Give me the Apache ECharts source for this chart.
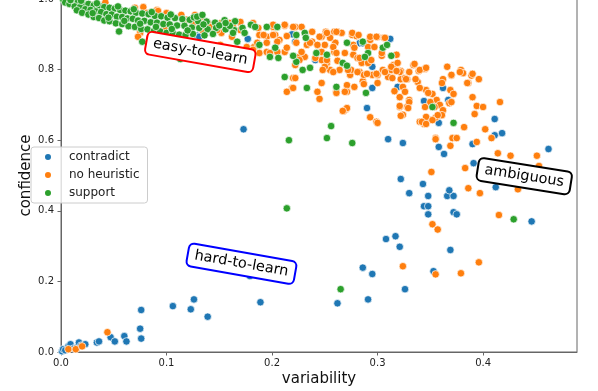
<!DOCTYPE html>
<html>
<head>
<meta charset="utf-8">
<script src="https://cdn.jsdelivr.net/npm/echarts@6/dist/echarts.min.js"></script>
<style>
html,body{margin:0;padding:0;background:#fff;}
#chart{width:598px;height:391px;}
</style>
</head>
<body>
<div id="chart"></div>
<script>
// [variability, confidence] per training example
var contradict=[
  [0.001,0.002],[0.002,0.008],[0.004,0.005],[0.007,0.016],[0.009,0.022],[0.012,0.010],[0.015,0.013],[0.017,0.027],[0.019,0.018],[0.023,0.022],
  [0.034,0.027],[0.036,0.030],[0.047,0.042],[0.051,0.030],[0.060,0.045],[0.062,0.030],[0.075,0.066],[0.076,0.038],[0.076,0.119],[0.106,0.130],
  [0.123,0.121],[0.126,0.149],[0.139,0.100],[0.179,0.215],[0.189,0.141],
  [0.262,0.138],[0.291,0.149],[0.286,0.239],[0.295,0.221],[0.308,0.320],[0.317,0.328],[0.321,0.298],[0.326,0.178],[0.353,0.229],[0.369,0.289],
  [0.344,0.413],[0.348,0.413],[0.348,0.390],[0.372,0.396],[0.375,0.390],[0.366,0.442],[0.372,0.442],[0.348,0.442],[0.330,0.450],[0.446,0.370],
  [0.322,0.490],[0.343,0.476],[0.368,0.458],[0.412,0.467],[0.391,0.535],
  [0.310,0.603],[0.324,0.592],[0.358,0.581],[0.363,0.561],[0.390,0.589],[0.411,0.660],[0.418,0.620],[0.411,0.614],[0.462,0.575],
  [0.173,0.631],
  [0.295,0.808],[0.295,0.748],[0.319,0.751],[0.290,0.691],[0.344,0.711],[0.362,0.748],[0.367,0.714],[0.358,0.649],
  [0.129,0.896],[0.131,0.893],[0.177,0.887],[0.219,0.900],[0.222,0.879],[0.241,0.827],[0.283,0.875],[0.286,0.875],[0.312,0.887]
];
var noHeuristic=[
  [0.007,0.008],[0.014,0.008],[0.020,0.016],[0.044,0.056],
  [0.324,0.243],[0.352,0.362],[0.357,0.347],[0.355,0.220],[0.379,0.223],[0.396,0.254],[0.415,0.388],[0.386,0.464],[0.397,0.450],[0.433,0.461],
  [0.351,0.510],[0.383,0.521],[0.414,0.563],[0.426,0.556],[0.451,0.556],[0.453,0.527],
  [0.355,0.606],[0.371,0.606],[0.375,0.606],[0.369,0.584],[0.394,0.595],[0.402,0.631],[0.408,0.606],[0.382,0.637],
  [0.390,0.722],[0.394,0.697],[0.400,0.694],[0.392,0.674],[0.416,0.708],[0.368,0.705],
  [0.366,0.808],[0.370,0.783],[0.379,0.799],[0.381,0.790],[0.389,0.783],[0.396,0.773],[0.386,0.762],[0.362,0.773],[0.361,0.762],[0.369,0.742],
  [0.372,0.731],[0.370,0.708],[0.390,0.788],[0.385,0.762],[0.370,0.785],[0.378,0.793],
  [0.352,0.731],[0.356,0.714],[0.359,0.700],[0.362,0.685],[0.361,0.671],[0.355,0.664],[0.349,0.657],[0.344,0.646],[0.340,0.652],[0.345,0.694],
  [0.330,0.714],[0.328,0.694],[0.321,0.694],[0.324,0.672],[0.321,0.722],[0.322,0.773],[0.338,0.765],[0.346,0.742],[0.299,0.652],[0.293,0.665],
  [0.270,0.688],[0.268,0.683],[0.245,0.717],[0.247,0.762],[0.261,0.739],[0.271,0.756],[0.286,0.767],[0.300,0.762],[0.295,0.785],[0.300,0.785],
  [0.310,0.779],[0.313,0.799],[0.315,0.813],[0.322,0.796],[0.328,0.773],[0.334,0.813],[0.339,0.796],[0.345,0.802],[0.220,0.776],[0.219,0.748],
  [0.274,0.785],
  [0.251,0.907],[0.259,0.907],[0.262,0.907],[0.266,0.904],[0.276,0.898],[0.280,0.895],[0.293,0.884],[0.300,0.892],[0.306,0.890],[0.250,0.870],
  [0.260,0.876],[0.255,0.890],[0.277,0.870],[0.291,0.864],[0.259,0.850],[0.269,0.847],[0.277,0.842],[0.281,0.833],[0.304,0.839],[0.318,0.842],
  [0.252,0.819],[0.262,0.825],[0.285,0.819],[0.291,0.819],[0.313,0.808],[0.319,0.819],[0.255,0.799],[0.264,0.799],[0.275,0.799],[0.283,0.793],
  [0.305,0.799],[0.321,0.793],[0.330,0.793],[0.287,0.785],[0.314,0.776],[0.326,0.776],[0.336,0.773],[0.340,0.748],[0.348,0.734],[0.324,0.751],
  [0.326,0.737],[0.316,0.739],[0.261,0.734],[0.271,0.737],[0.287,0.759],[0.335,0.816],[0.340,0.799],[0.346,0.805],
  [0.350,0.708],[0.354,0.694],[0.357,0.671],[0.346,0.666],[0.342,0.652],[0.346,0.646],[0.352,0.657],[0.330,0.708],[0.321,0.697],[0.329,0.691],
  [0.322,0.669],[0.271,0.691],[0.267,0.683],[0.300,0.649],[0.355,0.603],
  [0.127,0.955],[0.133,0.950],[0.134,0.912],[0.140,0.929],[0.146,0.912],[0.152,0.932],[0.160,0.932],[0.170,0.932],[0.152,0.904],[0.170,0.912],
  [0.187,0.918],[0.188,0.898],[0.195,0.893],[0.203,0.898],[0.212,0.924],[0.201,0.921],[0.214,0.895],[0.207,0.884],[0.212,0.850],[0.233,0.870],
  [0.238,0.879],[0.247,0.893],[0.226,0.836],[0.231,0.836],[0.247,0.827],[0.250,0.808],[0.222,0.776],[0.214,0.737],[0.220,0.748],[0.243,0.737],
  [0.188,0.847],[0.195,0.850],[0.179,0.856],[0.183,0.864],[0.162,0.893],
  [0.028,0.983],[0.042,0.990],[0.070,0.975],[0.078,0.977],[0.091,0.969],[0.092,0.966],[0.100,0.960],[0.114,0.955],[0.117,0.940],[0.119,0.941],
  [0.125,0.932],[0.132,0.921],[0.141,0.921],[0.148,0.912],[0.163,0.927],[0.170,0.935],[0.182,0.932],[0.201,0.927],[0.212,0.927],[0.222,0.921],
  [0.201,0.898],[0.192,0.898],[0.195,0.876],[0.205,0.879],[0.214,0.862],[0.081,0.960],[0.075,0.904],[0.073,0.893],[0.120,0.850],[0.084,0.889],
  [0.222,0.813],[0.098,0.918],[0.113,0.898],[0.151,0.870],[0.176,0.864],[0.182,0.856],[0.186,0.876],[0.205,0.850],[0.198,0.847],
  [0.220,0.921],[0.228,0.921],[0.238,0.907],[0.245,0.893],[0.252,0.904],[0.261,0.907],[0.276,0.904],[0.282,0.898],[0.293,0.893],[0.299,0.893],
  [0.307,0.890],[0.223,0.876],[0.236,0.876],[0.243,0.870],[0.258,0.864],[0.278,0.862],[0.297,0.864],[0.228,0.850],[0.247,0.850],[0.261,0.847],
  [0.304,0.847],[0.226,0.827],[0.241,0.833],[0.252,0.827],[0.283,0.833],[0.294,0.827],[0.248,0.799],[0.258,0.793],[0.272,0.799],[0.281,0.793],
  [0.290,0.788],[0.299,0.788],[0.307,0.793],[0.318,0.796],[0.327,0.773],[0.269,0.737],[0.278,0.751]
];
var support=[
  [0.002,0.999],[0.006,0.996],[0.011,0.994],[0.016,0.991],[0.021,0.988],[0.026,0.986],[0.031,0.982],[0.036,0.981],[0.041,0.977],[0.046,0.975],
  [0.051,0.973],[0.056,0.969],[0.061,0.967],[0.066,0.965],[0.071,0.961],[0.077,0.959],[0.083,0.957],[0.089,0.952],[0.095,0.951],[0.101,0.947],
  [0.108,0.946],[0.115,0.943],[0.122,0.941],[0.130,0.937],[0.138,0.936],[0.146,0.933],[0.155,0.940],[0.165,0.937],
  [0.004,0.990],[0.008,0.986],[0.013,0.979],[0.018,0.977],[0.023,0.971],[0.028,0.969],[0.033,0.965],[0.038,0.963],[0.043,0.957],[0.048,0.956],
  [0.053,0.950],[0.058,0.949],[0.063,0.945],[0.068,0.944],[0.073,0.939],[0.079,0.938],[0.085,0.934],[0.091,0.933],[0.097,0.929],[0.103,0.928],
  [0.110,0.925],[0.117,0.924],[0.124,0.919],[0.131,0.918],[0.139,0.914],[0.147,0.918],[0.156,0.914],[0.164,0.912],[0.172,0.918],
  [0.015,0.968],[0.020,0.961],[0.026,0.956],[0.031,0.949],[0.036,0.946],[0.041,0.939],[0.046,0.937],[0.052,0.931],[0.058,0.929],[0.064,0.923],
  [0.070,0.921],[0.076,0.915],[0.082,0.914],[0.088,0.909],[0.094,0.908],[0.100,0.904],[0.106,0.903],[0.112,0.899],[0.118,0.898],[0.125,0.901],
  [0.136,0.897],[0.144,0.901],
  [0.030,0.960],[0.045,0.947],[0.060,0.938],[0.075,0.930],[0.090,0.921],[0.105,0.915],[0.120,0.911],[0.135,0.928],[0.150,0.925],[0.160,0.924],
  [0.009,0.997],[0.019,0.995],[0.034,0.988],[0.054,0.979],[0.069,0.971],[0.086,0.963],[0.104,0.956],[0.126,0.948],
  [0.055,0.908],[0.077,0.879],[0.113,0.830],
  [0.129,0.950],[0.134,0.955],[0.156,0.932],[0.163,0.904],[0.174,0.904],[0.167,0.879],[0.180,0.927],[0.184,0.921],[0.188,0.870],[0.195,0.921],
  [0.198,0.836],[0.203,0.862],[0.205,0.921],[0.212,0.779],[0.223,0.898],[0.231,0.904],[0.223,0.822],[0.229,0.799],[0.236,0.805],[0.242,0.847],
  [0.233,0.748],[0.252,0.842],[0.232,0.890],[0.220,0.839],[0.267,0.819],[0.271,0.811],[0.271,0.876],[0.286,0.879],[0.291,0.847],[0.288,0.836],
  [0.305,0.862],[0.309,0.870],[0.313,0.839],[0.261,0.751],[0.289,0.734],[0.256,0.640],[0.252,0.606],[0.276,0.592],[0.352,0.694],[0.372,0.649],
  [0.216,0.600],[0.206,0.833],[0.214,0.407],[0.265,0.178],[0.429,0.376]
];
var seriesNames=['contradict','no heuristic','support'];
var seriesColors=['#1f77b4','#ff7f0e','#2ca02c'];
var xTicks=[0,0.1,0.2,0.3,0.4];
var yTicks=[0,0.2,0.4,0.6,0.8,1.0];
var notes=[
  {text:'easy-to-learn',at:[0.132,0.850],color:'#ff0000',angle:-10},
  {text:'ambiguous',at:[0.439,0.498],color:'#000000',angle:-9},
  {text:'hard-to-learn',at:[0.171,0.250],color:'#0000ff',angle:-10}
];

var chart=echarts.init(document.getElementById('chart'));
var font='"DejaVu Sans", sans-serif';

function scatter(i,data){
  return {
    name:seriesNames[i],
    type:'scatter',
    data:data,
    symbolSize:7.5,
    itemStyle:{color:seriesColors[i],borderColor:'#fff',borderWidth:0.7,opacity:1},
    emphasis:{disabled:true}
  };
}

var option={
  animation:false,
  grid:{left:61,right:21,top:-1,bottom:39,outerBoundsMode:'none',containLabel:false,
    show:true,borderColor:'#666',borderWidth:1,backgroundColor:'transparent'},
  legend:{
    orient:'vertical',left:31,top:147,
    data:seriesNames,icon:'circle',
    itemWidth:8,itemHeight:8,itemGap:6,
    padding:[4,8,4,12],
    backgroundColor:'rgba(255,255,255,0.8)',borderColor:'#ccc',borderWidth:1,borderRadius:3,
    textStyle:{fontSize:12,color:'#222',fontFamily:font,padding:[0,0,0,12]}
  },
  xAxis:{
    type:'value',min:0,max:0.489,
    name:'variability',nameLocation:'middle',nameGap:20,nameMoveOverlap:false,
    nameTextStyle:{fontSize:15,color:'#111',fontFamily:font},
    axisLine:{show:true,lineStyle:{color:'#666',width:1}},
    axisTick:{show:true,length:3.5,customValues:xTicks,lineStyle:{color:'#666'}},
    axisLabel:{customValues:xTicks,margin:6,fontSize:10,color:'#222',fontFamily:font,
      formatter:function(v){return v.toFixed(1);}},
    splitLine:{show:false}
  },
  yAxis:{
    type:'value',min:0,max:1,
    name:'confidence',nameLocation:'middle',nameGap:27,nameMoveOverlap:false,
    nameTextStyle:{fontSize:15,color:'#111',fontFamily:font},
    axisLine:{show:true,lineStyle:{color:'#666',width:1}},
    axisTick:{show:true,length:3.5,customValues:yTicks,lineStyle:{color:'#666'}},
    axisLabel:{customValues:yTicks,margin:7,fontSize:10,color:'#222',fontFamily:font,
      formatter:function(v){return v.toFixed(1);}},
    splitLine:{show:false}
  },
  series:[scatter(0,contradict),scatter(1,noHeuristic),scatter(2,support)]
};
chart.setOption(option);

var graphics=[];
for(var i=0;i<notes.length;i++){
  var p=chart.convertToPixel({gridIndex:0},notes[i].at);
  graphics.push({
    type:'text',x:p[0],y:p[1],z:100,
    rotation:notes[i].angle*Math.PI/180,
    style:{
      text:notes[i].text,font:'14.5px '+font,fill:'#000',
      align:'center',verticalAlign:'middle',
      backgroundColor:'#fff',borderColor:notes[i].color,borderWidth:2,borderRadius:4,
      padding:[3,6,3,6]
    }
  });
}
chart.setOption({graphic:graphics});
</script>
</body>
</html>
